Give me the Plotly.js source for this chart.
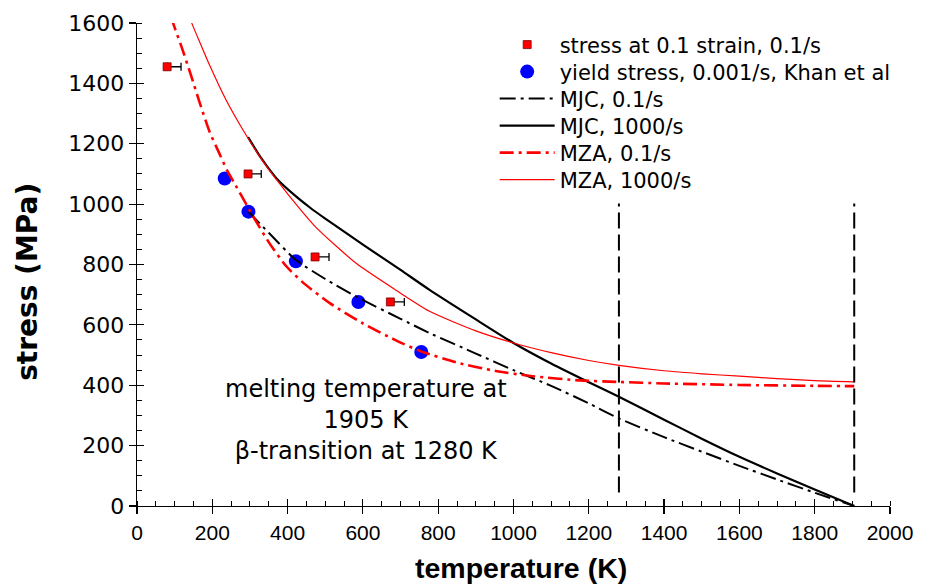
<!DOCTYPE html>
<html>
<head>
<meta charset="utf-8">
<script src="https://cdn.plot.ly/plotly-3.0.1.min.js"></script>
<style>
  html, body { margin: 0; padding: 0; background: #fff; }
  #chart { width: 930px; height: 584px; }
</style>
</head>
<body>
<div id="chart"></div>
<script>
// Measured flow stress at 0.1 strain, 0.1/s (with temperature uncertainty)
const strainTemp = [80, 295, 473, 673];
const strainStress = [1455, 1100, 825, 676];
const strainTempErr = [37, 35, 37, 37];

// Yield stress at 0.001/s (Khan et al)
const yieldTemp = [233, 296, 422, 588, 755];
const yieldStress = [1085, 975, 811, 676, 510];

// Modified Johnson-Cook model, 0.1/s
const mjcLowTemp = [296, 350, 422, 500, 588, 700, 777, 900, 1000, 1100, 1200, 1280, 1400, 1500, 1600, 1700, 1800, 1905];
const mjcLowStress = [975, 905, 815, 752, 690, 620, 573, 505, 450, 398, 340, 290, 228, 180, 133, 88, 44, 0];

// Modified Johnson-Cook model, 1000/s
const mjcHighTemp = [295, 330, 370, 420, 460, 500, 600, 700, 777, 900, 1000, 1100, 1200, 1280, 1400, 1500, 1600, 1700, 1800, 1905];
const mjcHighStress = [1222, 1152, 1086, 1028, 988, 952, 866, 782, 716, 618, 540, 472, 410, 362, 286, 223, 163, 108, 55, 0];

// Modified Zerilli-Armstrong model, 0.1/s
const mzaLowTemp = [92, 98, 117, 142, 166, 193, 215, 240, 262, 290, 308, 352, 396, 441, 512, 600, 689, 755, 850, 950, 1050, 1176, 1280, 1400, 1600, 1800, 1905];
const mzaLowStress = [1620, 1592, 1526, 1432, 1338, 1239, 1178, 1110, 1062, 1000, 960, 870, 795, 740, 672, 605, 548, 512, 475, 448, 430, 416, 411, 406, 401, 398, 397];

// Modified Zerilli-Armstrong model, 1000/s
const mzaHighTemp = [140, 146, 170, 193, 237, 290, 330, 370, 432, 476, 583, 689, 777, 900, 1000, 1100, 1200, 1280, 1400, 1500, 1600, 1700, 1800, 1905];
const mzaHighStress = [1620, 1598, 1527, 1460, 1344, 1228, 1150, 1082, 985, 922, 803, 714, 645, 580, 540, 508, 482, 466, 448, 438, 430, 422, 415, 411];

// Reference temperatures: beta-transition and melting
const betaTransitionTemp = 1280;
const meltingTemp = 1905;
const markerLineStress = [45, 1002];

const legendFont = { family: 'DejaVu Sans', size: 21, color: '#000' };
const legendIds = ['legend', 'legend2', 'legend3', 'legend4', 'legend5', 'legend6'];

const traces = [
  {
    x: strainTemp, y: strainStress, mode: 'markers', type: 'scatter',
    name: 'stress at 0.1 strain, 0.1/s', legend: legendIds[0],
    marker: { symbol: 'square', size: 8, color: '#ff0000', line: { color: '#7a0000', width: 0.8 } },
    error_x: { type: 'data', symmetric: false, array: strainTempErr, arrayminus: strainTemp.map(() => 0),
               color: '#000', thickness: 1.3, width: 4 }
  },
  {
    x: yieldTemp, y: yieldStress, mode: 'markers', type: 'scatter',
    name: 'yield stress, 0.001/s, Khan et al', legend: legendIds[1],
    marker: { symbol: 'circle', size: 14, color: '#0000ff' }
  },
  {
    x: mjcLowTemp, y: mjcLowStress, mode: 'lines', type: 'scatter',
    name: 'MJC, 0.1/s', legend: legendIds[2],
    line: { color: '#000', width: 2, dash: '16px,5px,3px,5px', shape: 'spline', smoothing: 0.6 }
  },
  {
    x: mjcHighTemp, y: mjcHighStress, mode: 'lines', type: 'scatter',
    name: 'MJC, 1000/s', legend: legendIds[3],
    line: { color: '#000', width: 2.2, shape: 'spline', smoothing: 0.6 }
  },
  {
    x: mzaLowTemp, y: mzaLowStress, mode: 'lines', type: 'scatter',
    name: 'MZA, 0.1/s', legend: legendIds[4],
    line: { color: '#ff0000', width: 2.6, dash: '14px,5px,3px,5px', shape: 'spline', smoothing: 0.6 }
  },
  {
    x: mzaHighTemp, y: mzaHighStress, mode: 'lines', type: 'scatter',
    name: 'MZA, 1000/s', legend: legendIds[5],
    line: { color: '#ff0000', width: 1.2, shape: 'spline', smoothing: 0.6 }
  },
  {
    x: [betaTransitionTemp, betaTransitionTemp], y: markerLineStress, mode: 'lines', type: 'scatter',
    showlegend: false, hoverinfo: 'skip',
    line: { color: '#000', width: 2, dash: '16px,6px' }
  },
  {
    x: [meltingTemp, meltingTemp], y: markerLineStress, mode: 'lines', type: 'scatter',
    showlegend: false, hoverinfo: 'skip',
    line: { color: '#000', width: 2, dash: '16px,6px' }
  },
  // invisible trace that carries the inward half of the major ticks
  {
    x: [0], y: [0], xaxis: 'x2', yaxis: 'y2', mode: 'markers', showlegend: false,
    hoverinfo: 'skip', marker: { opacity: 0 }
  }
];

const plotHeight = 584 - 23 - 78;
const rowStep = 27 / plotHeight;

const layout = {
  width: 930, height: 584,
  paper_bgcolor: '#fff', plot_bgcolor: '#fff',
  margin: { l: 137, r: 40, t: 23, b: 78 },
  showlegend: true,
  xaxis: {
    range: [0, 2000], dtick: 200, tick0: 0,
    showgrid: false, zeroline: false,
    showline: true, linecolor: '#000', linewidth: 1.3,
    ticks: 'outside', ticklen: 7, tickwidth: 1.2, tickcolor: '#000',
    minor: { ticks: 'inside', dtick: 50, ticklen: 5, tickwidth: 1, tickcolor: '#000', showgrid: false },
    tickfont: { family: 'Liberation Sans, Arial', size: 21, color: '#000' }
  },
  yaxis: {
    range: [0, 1600], dtick: 200, tick0: 0,
    showgrid: false, zeroline: false,
    showline: true, linecolor: '#000', linewidth: 1.3,
    ticks: 'outside', ticklen: 7, tickwidth: 1.2, tickcolor: '#000',
    minor: { ticks: 'inside', dtick: 50, ticklen: 5, tickwidth: 1, tickcolor: '#000', showgrid: false },
    tickfont: { family: 'DejaVu Sans', size: 22, color: '#000' }
  },
  xaxis2: {
    overlaying: 'x', matches: 'x', range: [0, 2000], dtick: 200, tick0: 0,
    showgrid: false, zeroline: false, showline: false, showticklabels: false,
    ticks: 'inside', ticklen: 7, tickwidth: 1.2, tickcolor: '#000'
  },
  yaxis2: {
    overlaying: 'y', matches: 'y', range: [0, 1600], dtick: 200, tick0: 0,
    showgrid: false, zeroline: false, showline: false, showticklabels: false,
    ticks: 'inside', ticklen: 7, tickwidth: 1.2, tickcolor: '#000'
  },
  annotations: [
    {
      x: 607, y: 286, xref: 'x', yref: 'y', xanchor: 'center', yanchor: 'middle',
      showarrow: false, align: 'center',
      text: 'melting temperature at<br>1905 K<br>β-transition at 1280 K',
      font: { family: 'DejaVu Sans', size: 24, color: '#000' }
    },
    {
      // axis titles
      x: 0.5096, y: -0.129, xref: 'paper', yref: 'paper', xanchor: 'center', yanchor: 'middle',
      showarrow: false, text: 'temperature (K)',
      font: { family: 'Liberation Sans, Arial', size: 28.5, color: '#000', weight: 'bold' }
    },
    {
      x: -0.1455, y: 0.465, xref: 'paper', yref: 'paper', xanchor: 'center', yanchor: 'middle',
      showarrow: false, textangle: -90, text: 'stress (MPa)',
      font: { family: 'DejaVu Sans', size: 28, color: '#000', weight: 'bold' }
    }
  ]
};

// one legend per entry so the rows sit on a fixed pitch
legendIds.forEach((id, i) => {
  layout[id] = {
    x: 0.475, y: 0.997 - i * rowStep, xanchor: 'left', yanchor: 'top',
    bgcolor: 'rgba(255,255,255,0)', borderwidth: 0,
    font: legendFont, itemwidth: 55
  };
});

Plotly.newPlot('chart', traces, layout, { staticPlot: true, displayModeBar: false });
</script>
</body>
</html>
